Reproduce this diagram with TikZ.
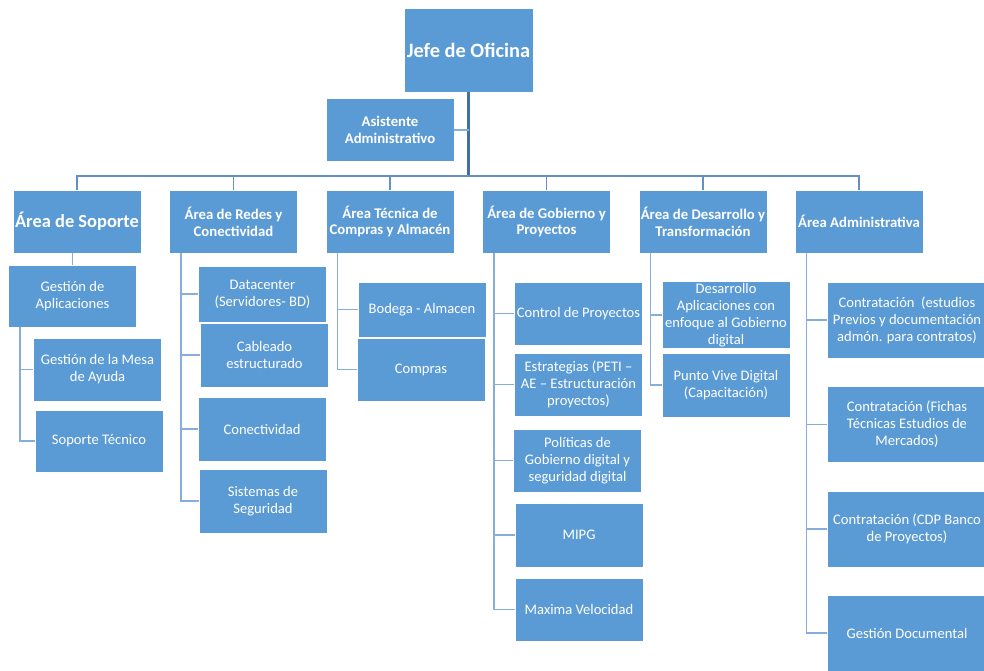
\documentclass[tikz,border=0pt]{standalone}
\usepackage{fontspec}
\setmainfont{Carlito}
\usetikzlibrary{positioning}

\definecolor{boxblue}{HTML}{5B9BD5}
\definecolor{trunkblue}{HTML}{41719C}
\definecolor{busblue}{HTML}{6690C4}
\definecolor{childblue}{HTML}{86ADDB}

\def\spine{0.24cm}

\begin{document}
\begin{tikzpicture}[x=0.02cm,y=-0.02cm]
    \tikzstyle{unit}=[rectangle,fill=boxblue,draw=white,line width=0.5pt,text=white,
        align=center,inner sep=1pt,minimum width=2.56cm,minimum height=1.26cm,
        font=\fontsize{8.3}{9.6}\selectfont]
    \tikzstyle{head unit}=[unit,font=\bfseries\fontsize{8.4}{9.6}\selectfont]
    \tikzstyle{wide unit}=[unit,minimum width=3.2cm,minimum height=1.52cm]
    \tikzstyle{trunk}=[draw=trunkblue,line width=1.3pt]
    \tikzstyle{bus line}=[draw=busblue,line width=1.1pt]
    \tikzstyle{child line}=[draw=childblue,line width=0.9pt]

    \useasboundingbox (0,0) rectangle (984,671);
    \clip (0,0) rectangle (984,671);

    % Top of the chart
    \node[head unit,minimum width=2.58cm,minimum height=1.68cm,
        font=\bfseries\fontsize{11.6}{13}\selectfont] (J) at (468.5,50) {Jefe de Oficina};
    \node[head unit] (As) at (390,130) {Asistente\\Administrativo};

    % Draw the area nodes
    \node[head unit,font=\bfseries\fontsize{10.5}{12}\selectfont] (A-1) at (77,221.5) {Área de Soporte};
    \foreach \name / \x / \txt in {2/233.5/{Área de Redes y\\Conectividad},
        3/390/{Área Técnica de\\Compras y Almacén},
        4/546.5/{Área de Gobierno y\\Proyectos},
        5/703/{Área de Desarrollo y\\Transformación},
        6/859/{Área Administrativa}}
        \node[head unit] (A-\name) at (\x,221.5) {\txt};

    % Soporte
    \node[unit,minimum height=1.24cm] (G-1) at (72.5,296) {Gestión de\\Aplicaciones};
    \node[unit] (G-2) at (97.5,369.5) {Gestión de la Mesa\\de Ayuda};
    \node[unit,minimum height=1.24cm] (G-3) at (99,441) {Soporte Técnico};

    % Redes y Conectividad
    \node[unit,minimum height=1.12cm] (R-1) at (262.5,294) {Datacenter\\(Servidores- BD)};
    \node[unit,minimum height=1.28cm] (R-2) at (264.5,355) {Cableado\\estructurado};
    \node[unit,minimum height=1.28cm] (R-3) at (262,429) {Conectividad};
    \node[unit,minimum height=1.28cm] (R-4) at (263,501) {Sistemas de\\Seguridad};

    % Compras y Almacen
    \node[unit,minimum height=1.1cm] (T-1) at (422,309.5) {Bodega - Almacen};
    \node[unit] (T-2) at (421,369.5) {Compras};

    % Gobierno y Proyectos
    \node[unit] (P-1) at (578.5,313.5) {Control de Proyectos};
    \node[unit] (P-2) at (578.5,384.5) {Estrategias (PETI --\\AE -- Estructuración\\proyectos)};
    \node[unit] (P-3) at (577.5,460.5) {Políticas de\\Gobierno digital y\\seguridad digital};
    \node[unit,minimum height=1.28cm] (P-4) at (579,535) {MIPG};
    \node[unit] (P-5) at (579,609.5) {Maxima Velocidad};

    % Desarrollo y Transformacion
    \node[unit,minimum height=1.28cm] (D-1) at (726,315) {Desarrollo\\Aplicaciones con\\enfoque al Gobierno\\digital};
    \node[unit,minimum height=1.28cm] (D-2) at (726,385) {Punto Vive Digital\\(Capacitación)};

    % Administrativa
    \node[wide unit] (C-1) at (907,320) {Contratación\ \ (estudios\\Previos y documentación\\admón. para contratos)};
    \node[wide unit] (C-2) at (907,424.5) {Contratación (Fichas\\Técnicas Estudios de\\Mercados)};
    \node[wide unit] (C-3) at (907,529) {Contratación (CDP Banco\\de Proyectos)};
    \node[wide unit] (C-4) at (907,633) {Gestión Documental};

    % Trunk and bus
    \path (J |- A-1.north) ++(0,-14) coordinate (bus);
    \draw[trunk] (J) -- (bus);
    \draw[child line] (As) -- (As -| J);
    \foreach \i in {1,...,6}
        \draw[bus line] (bus) -| (A-\i);

    % Connect every area with its units
    \draw[child line] (G-1) -- (A-1.south -| G-1);
    \foreach \c in {2,3}
        \draw[child line] ([xshift=\spine]G-1.south west) |- (G-\c);
    \foreach \c in {1,...,4}
        \draw[child line] ([xshift=\spine]A-2.south west) |- (R-\c);
    \foreach \c in {1,2}
        \draw[child line] ([xshift=\spine]A-3.south west) |- (T-\c);
    \foreach \c in {1,...,5}
        \draw[child line] ([xshift=\spine]A-4.south west) |- (P-\c);
    \foreach \c in {1,2}
        \draw[child line] ([xshift=\spine]A-5.south west) |- (D-\c);
    \foreach \c in {1,...,4}
        \draw[child line] ([xshift=\spine]A-6.south west) |- (C-\c);
\end{tikzpicture}
\end{document}
